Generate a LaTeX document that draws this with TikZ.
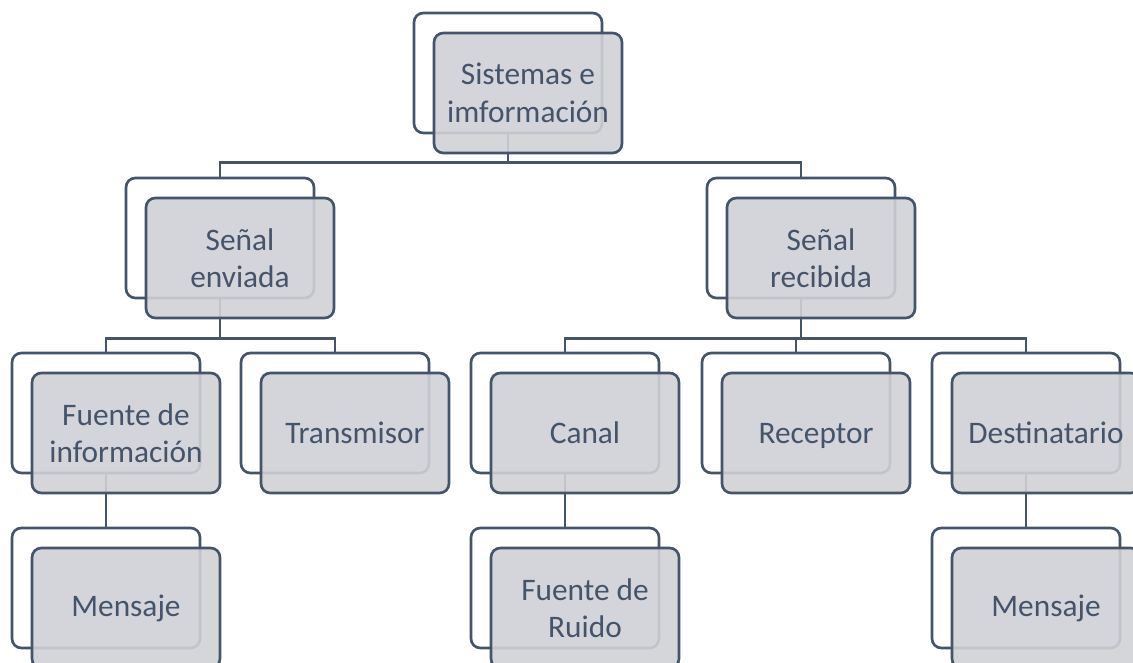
\documentclass[tikz,border=0pt]{standalone}
\usepackage{fontspec}
\setmainfont{Carlito}
\usetikzlibrary{positioning}
\definecolor{slate}{HTML}{44546A}
\definecolor{boxgrey}{RGB}{207,209,214}

\begin{document}
\begin{tikzpicture}[x=0.75pt,y=-0.75pt,
            backbox/.style={draw=slate, line width=2pt, fill=white, rounded corners=7pt, minimum width=141pt, minimum height=90pt, inner sep=0pt},
            frontbox/.style={draw=slate, line width=2pt, fill=boxgrey, fill opacity=0.9, text opacity=1, rounded corners=7pt, minimum width=141pt, minimum height=90pt, inner sep=0pt, text=slate, font=\fontsize{23.5}{28}\selectfont, align=center},
            conn/.style={draw=slate, line width=2pt}]
            \clip (0,0) rectangle (1133,663);
            \useasboundingbox (0,0) rectangle (1133,663);
            % back boxes
            \node[backbox] (sisB) at (508,73) {};
            \node[backbox] (envB) at (220,238) {};
            \node[backbox] (recB) at (801,238) {};
            \node[backbox] (fueB) at (106,413) {};
            \node[backbox] (traB) at (335,413) {};
            \node[backbox] (canB) at (565,413) {};
            \node[backbox] (rcpB) at (796,413) {};
            \node[backbox] (desB) at (1026,413) {};
            \node[backbox] (menB) at (106,588) {};
            \node[backbox] (ruiB) at (565,588) {};
            \node[backbox] (mnsB) at (1026,588) {};
            % connectors
            \draw[conn] (sisB.south) -- ++(0,28) -| (envB.north);
            \draw[conn] (sisB.south) -- ++(0,28) -| (recB.north);
            \draw[conn] (envB.south) -- ++(0,39) -| (fueB.north);
            \draw[conn] (envB.south) -- ++(0,39) -| (traB.north);
            \draw[conn] (recB.south) -- ++(0,39) -| (canB.north);
            \draw[conn] (recB.south) -- ++(0,39) -| (rcpB.north);
            \draw[conn] (recB.south) -- ++(0,39) -| (desB.north);
            \draw[conn] (fueB.south) -- (menB.north);
            \draw[conn] (canB.south) -- (ruiB.north);
            \draw[conn] (desB.south) -- (mnsB.north);
            % front boxes
            \node[frontbox] (sis) at ([shift={(20,20)}]sisB.center) {Sistemas e\\imformación};
            \node[frontbox] (env) at ([shift={(20,20)}]envB.center) {Señal\\enviada};
            \node[frontbox] (rec) at ([shift={(20,20)}]recB.center) {Señal\\recibida};
            \node[frontbox] (fue) at ([shift={(20,20)}]fueB.center) {Fuente de\\información};
            \node[frontbox] (tra) at ([shift={(20,20)}]traB.center) {Transmisor};
            \node[frontbox] (can) at ([shift={(20,20)}]canB.center) {Canal};
            \node[frontbox, text depth=0pt] (rcp) at ([shift={(20,20)}]rcpB.center) {Receptor};
            \node[frontbox] (des) at ([shift={(20,20)}]desB.center) {Destinatario};
            \node[frontbox] (men) at ([shift={(20,20)}]menB.center) {Mensaje};
            \node[frontbox] (rui) at ([shift={(20,20)}]ruiB.center) {Fuente de\\Ruido};
            \node[frontbox] (mns) at ([shift={(20,20)}]mnsB.center) {Mensaje};
        \end{tikzpicture}
\end{document}
